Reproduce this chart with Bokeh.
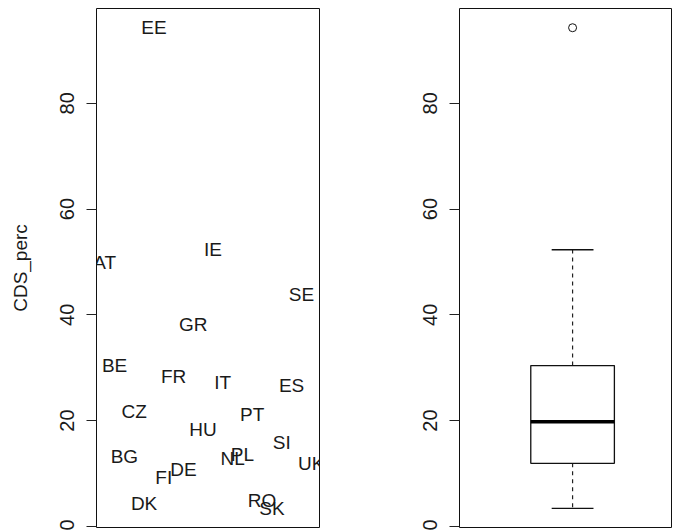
import numpy as np
from bokeh.plotting import figure
from bokeh.layouts import row
from bokeh.models import Range1d, FixedTicker, ColumnDataSource
from bokeh.core.properties import value
from bokeh.embed import file_html
from bokeh.resources import INLINE

# Data (countries ordered by full name, as in the original index order)
countries = ["AT", "BE", "BG", "CZ", "DK", "EE", "FI", "FR", "DE", "GR", "HU",
             "IE", "IT", "NL", "PL", "PT", "RO", "SK", "SI", "ES", "SE", "UK"]
cds_perc = [49.8, 30.4, 13.1, 21.8, 4.3, 94.3, 9.3, 28.4, 10.7, 38.2, 18.3,
            52.3, 27.2, 12.8, 13.6, 21.2, 4.9, 3.4, 15.9, 26.7, 43.9, 11.9]
y_ticks = [0, 20, 40, 60, 80]

FONT = "Liberation Sans"
TXT = "#1a1a1a"

vals = np.array(cds_perc, dtype=float)
idx = np.arange(1, len(vals) + 1)

# R-style axis range expansion (4%)
ylo, yhi = vals.min(), vals.max()
pad = 0.04 * (yhi - ylo)
y_range = (ylo - pad, yhi + pad)


def style_axis(p, label=None):
    ax = p.yaxis[0]
    ax.ticker = FixedTicker(ticks=y_ticks)
    ax.major_label_orientation = "parallel"
    ax.major_label_text_font = FONT
    ax.major_label_text_font_size = "20px"
    ax.major_label_text_color = TXT
    ax.major_tick_out = 10
    ax.major_tick_in = 0
    ax.minor_tick_line_color = None
    ax.major_tick_line_color = "#222222"
    ax.axis_line_color = None
    ax.major_label_standoff = 12
    if label:
        ax.axis_label = label
        ax.axis_label_text_font = FONT
        ax.axis_label_text_font_size = "19px"
        ax.axis_label_text_font_style = "normal"
        ax.axis_label_text_color = TXT
        ax.axis_label_standoff = 27
    p.grid.visible = False
    p.outline_line_color = "#111111"
    p.outline_line_width = 1


H = 530

# ---- Left panel: text plot ----
p1 = figure(width=340, height=H, output_backend="svg", toolbar_location=None,
            x_axis_location=None, title=None,
            x_range=Range1d(1 - 0.04 * (len(vals) - 1), len(vals) + 0.04 * (len(vals) - 1)),
            y_range=Range1d(*y_range),
            min_border_left=96, min_border_right=21, min_border_top=8, min_border_bottom=3)
style_axis(p1, "CDS_perc")
src = ColumnDataSource(dict(x=idx, y=vals, t=countries))
p1.text(x="x", y="y", text="t", source=src, text_align="center", text_baseline="middle",
        text_font=value(FONT), text_font_size="19px", text_color=TXT)

# ---- Right panel: boxplot ----
s = np.sort(vals)
n = len(s)
n4 = np.floor((n + 3) / 2) / 2
d = np.array([1, n4, (n + 1) / 2, n + 1 - n4, n])
five = 0.5 * (s[np.floor(d).astype(int) - 1] + s[np.ceil(d).astype(int) - 1])
q1, med, q3 = five[1], five[2], five[3]
iqr = q3 - q1
lo_w = s[s >= q1 - 1.5 * iqr].min()
hi_w = s[s <= q3 + 1.5 * iqr].max()
outl = s[(s < lo_w) | (s > hi_w)]

p2 = figure(width=332, height=H, output_backend="svg", toolbar_location=None,
            x_axis_location=None, title=None,
            x_range=Range1d(0.459, 1.478), y_range=Range1d(*y_range),
            min_border_left=119, min_border_right=0, min_border_top=8, min_border_bottom=3)
style_axis(p2)
c = 1.0
bw = 0.2
p2.segment(x0=[c, c], y0=[q3, q1], x1=[c, c], y1=[hi_w, lo_w],
           line_color="#222222", line_width=1.2, line_dash="4 4")
p2.segment(x0=[c - bw / 2, c - bw / 2], y0=[hi_w, lo_w], x1=[c + bw / 2, c + bw / 2], y1=[hi_w, lo_w],
           line_color="#111111", line_width=1.3)
p2.quad(left=[c - bw], right=[c + bw], bottom=[q1], top=[q3],
        fill_color=None, line_color="#111111", line_width=1.3)
p2.segment(x0=[c - bw], y0=[med], x1=[c + bw], y1=[med], line_color="black", line_width=3.5)
p2.scatter(x=[c] * len(outl), y=outl, marker="circle", size=8,
           fill_color=None, line_color="#111111", line_width=1)

layout = row(p1, p2)
open("out.html", "w").write(file_html(layout, INLINE))
